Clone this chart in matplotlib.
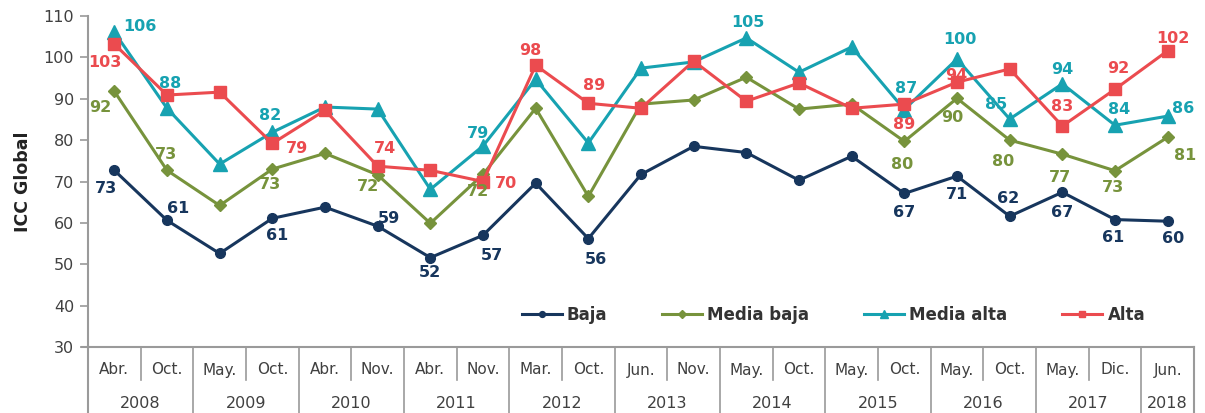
import matplotlib
matplotlib.use("Agg")
import matplotlib.pyplot as plt
import matplotlib.transforms as mtransforms

plt.rcParams["font.family"] = ["DejaVu Sans"]

# -----------------------------
# Data
# -----------------------------
months = ["Abr.", "Oct.", "May.", "Oct.", "Abr.", "Nov.", "Abr.", "Nov.", "Mar.", "Oct.",
          "Jun.", "Nov.", "May.", "Oct.", "May.", "Oct.", "May.", "Oct.", "May.", "Dic.", "Jun."]
years = ["2008", "2008", "2009", "2009", "2010", "2010", "2011", "2011", "2012", "2012",
         "2013", "2013", "2014", "2014", "2015", "2015", "2016", "2016", "2017", "2017", "2018"]

baja = [72.7, 60.6, 52.6, 61.1, 63.8, 59.2, 51.6, 57.0, 69.6, 56.2, 71.7,
        78.5, 77.0, 70.3, 76.1, 67.1, 71.3, 61.6, 67.4, 60.8, 60.4]
media_baja = [91.8, 72.7, 64.2, 73.0, 76.8, 71.6, 59.9, 71.7, 87.7, 66.4, 88.7,
              89.7, 95.2, 87.5, 88.7, 79.7, 90.1, 80.0, 76.6, 72.6, 80.7]
media_alta = [106.1, 87.7, 74.2, 81.9, 88.0, 87.5, 68.1, 78.6, 94.7, 79.3, 97.4,
              98.9, 104.7, 96.4, 102.5, 87.4, 99.6, 85.1, 93.6, 83.6, 85.8]
alta = [103.2, 90.9, 91.6, 79.2, 87.2, 73.7, 72.7, 70.0, 98.1, 88.9, 87.7,
        99.1, 89.4, 93.8, 87.7, 88.7, 94.0, 97.2, 83.4, 92.3, 101.6]

# which points carry a value label: (index, dx, dy) offsets in pixels (dy down)
baja_labels = [(0, -8, 18), (1, 11, -12), (3, 5, 17), (5, 11, -8), (6, 0, 15), (7, 9, 20),
               (9, 8, 21), (15, 0, 19), (16, 0, 18), (17, -2, -18), (18, 0, 20),
               (19, -2, 18), (20, 5, 17)]
media_baja_labels = [(0, -14, 16), (1, -1, -16), (3, -2, 15), (5, -10, 12), (7, -5, 17),
                     (15, -2, 23), (16, -5, 19), (17, -7, 21), (18, -2, 23),
                     (19, -2, 17), (20, 17, 18)]
media_alta_labels = [(0, 26, -6), (1, 3, -25), (3, -2, -17), (7, -5, -12), (12, 2, -15),
                     (15, 2, -21), (16, 3, -20), (17, -14, -15), (18, 0, -14),
                     (19, 4, -16), (20, 15, -8)]
alta_labels = [(0, -9, 18), (3, 25, 5), (5, 7, -18), (7, 23, 2), (8, -5, -15), (9, 6, -18),
               (15, 0, 20), (16, -1, -7), (18, 0, -20), (19, 3, -21), (20, 5, -12)]

# -----------------------------
# Styles
# -----------------------------
series = [
    ("Baja", baja, baja_labels, "#17365D", "o", 7),
    ("Media baja", media_baja, media_baja_labels, "#77933C", "D", 6.5),
    ("Media alta", media_alta, media_alta_labels, "#17A2B1", "^", 10),
    ("Alta", alta, alta_labels, "#EB4B4F", "s", 8),
]
AXIS_GRAY = "#9A9A9A"
TEXT = "#404040"

fig = plt.figure(figsize=(12.05, 4.13), dpi=100)
ax = fig.add_axes([88 / 1205, 1 - 347 / 413, (1194 - 88) / 1205, (347 - 16) / 413])

x = list(range(len(months)))
handles = []
for name, vals, labels, color, marker, ms in series:
    h, = ax.plot(x, vals, color=color, lw=2.2, marker=marker, ms=ms, label=name, zorder=3)
    handles.append(h)
    for i, dx, dy in labels:
        ax.annotate(f"{vals[i]:.0f}", (x[i], vals[i]), xytext=(dx, -dy),
                    textcoords="offset pixels", ha="center", va="center",
                    color=color, fontsize=11.5, fontweight="bold", zorder=4)

ax.set_xlim(-0.5, len(months) - 0.5)
ax.set_ylim(30, 110)
ax.set_yticks(range(30, 111, 10))
ax.tick_params(axis="y", direction="out", length=6, width=1.2, color=AXIS_GRAY,
               labelsize=11.5, labelcolor=TEXT, pad=4)
ax.set_xticks([])
for side in ["top", "right"]:
    ax.spines[side].set_visible(False)
for side in ["left", "bottom"]:
    ax.spines[side].set_color(AXIS_GRAY)
    ax.spines[side].set_linewidth(1.5)

ax.set_ylabel("ICC Global", fontsize=12.5, fontweight="bold", color="#222222", labelpad=8)

# -----------------------------
# Category table under the axis
# -----------------------------
trans = mtransforms.blended_transform_factory(ax.transData, ax.transAxes)
px = 1 / (347 - 16)  # one pixel in axes fraction (vertical)

for i, m in enumerate(months):
    ax.text(i, -23 * px, m, transform=trans, ha="center", va="center",
            fontsize=11, color=TEXT, clip_on=False)

# year labels centred on their groups
groups = []
for i, yv in enumerate(years):
    if groups and groups[-1][0] == yv:
        groups[-1][2] = i
    else:
        groups.append([yv, i, i])
for yv, a, b in groups:
    ax.text((a + b) / 2, -56 * px, yv, transform=trans, ha="center", va="center",
            fontsize=11.5, color=TEXT, clip_on=False)

# separators: short between months, long between years
for i in range(1, len(months)):
    long_sep = years[i] != years[i - 1]
    y_end = -66 * px if long_sep else -33 * px
    ax.plot([i - 0.5, i - 0.5], [0, y_end], transform=trans, color=AXIS_GRAY,
            lw=1.2, clip_on=False)
for edge in [-0.5, len(months) - 0.5]:
    ax.plot([edge, edge], [0, -66 * px], transform=trans, color=AXIS_GRAY,
            lw=1.5, clip_on=False)
ax.plot([-0.5 - 6 / 52.65, -0.5], [0, 0], transform=trans, color=AXIS_GRAY,
        lw=1.5, clip_on=False)

# -----------------------------
# Legend
# -----------------------------
leg = ax.legend(handles=handles, loc="center", bbox_to_anchor=(0.674, 0.097), ncol=4,
                frameon=False, handlelength=2.4, columnspacing=3.3, handletextpad=0.3,
                markerscale=0.6, prop={"weight": "bold", "size": 12})
for t in leg.get_texts():
    t.set_color("#333333")

fig.savefig("out.png", dpi=100)
